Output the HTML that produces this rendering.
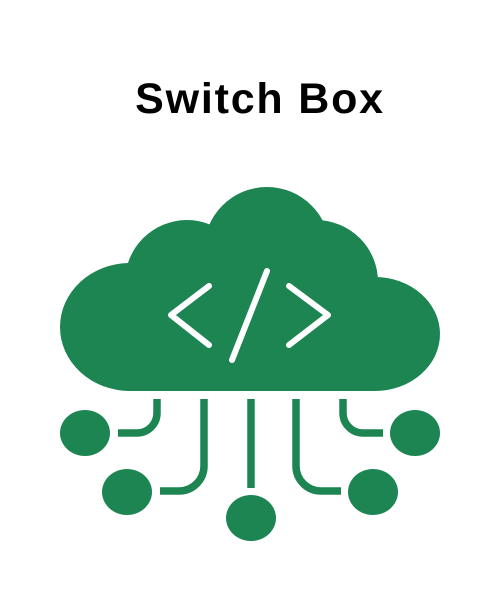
<!DOCTYPE html>
<html><head><style>
html,body{margin:0;padding:0;background:#fff;width:502px;height:597px;overflow:hidden}
</style></head><body>
<svg width="502" height="597" viewBox="0 0 502 597" xmlns="http://www.w3.org/2000/svg">
<text x="260" y="113" text-anchor="middle" font-family="Liberation Sans, sans-serif" font-weight="bold" font-size="43" letter-spacing="1.8" fill="#000">Switch Box</text>
<g fill="#1c8552">
<circle cx="267" cy="250" r="63"/>
<circle cx="187" cy="282" r="62"/>
<circle cx="316" cy="282" r="62"/>
<ellipse cx="130" cy="327" rx="70" ry="64"/>
<ellipse cx="375" cy="334" rx="65" ry="57"/>
<rect x="130" y="270" width="245" height="121"/>
<ellipse cx="85" cy="433" rx="25" ry="23"/>
<ellipse cx="127" cy="492" rx="25" ry="23"/>
<ellipse cx="251" cy="518" rx="25" ry="23"/>
<ellipse cx="373" cy="492" rx="25" ry="23"/>
<ellipse cx="415" cy="433" rx="25" ry="23"/>
</g>
<g fill="none" stroke="#fff" stroke-width="6" stroke-linecap="round" stroke-linejoin="round">
<polyline points="209,286 171,315 209,345"/>
<line x1="267" y1="271" x2="232" y2="360"/>
<polyline points="289,286 328,315 289,345"/>
</g>
<g fill="none" stroke="#1c8552" stroke-width="7.5">
<path d="M157,399 V413 A20,20 0 0 1 137,433 H118"/>
<path d="M204,399 V466 A25,25 0 0 1 179,491 H160"/>
<path d="M251,399 V488"/>
<path d="M296,399 V466 A25,25 0 0 0 321,491 H341"/>
<path d="M343,399 V413 A20,20 0 0 0 363,433 H383"/>
</g>
</svg>
</body></html>
